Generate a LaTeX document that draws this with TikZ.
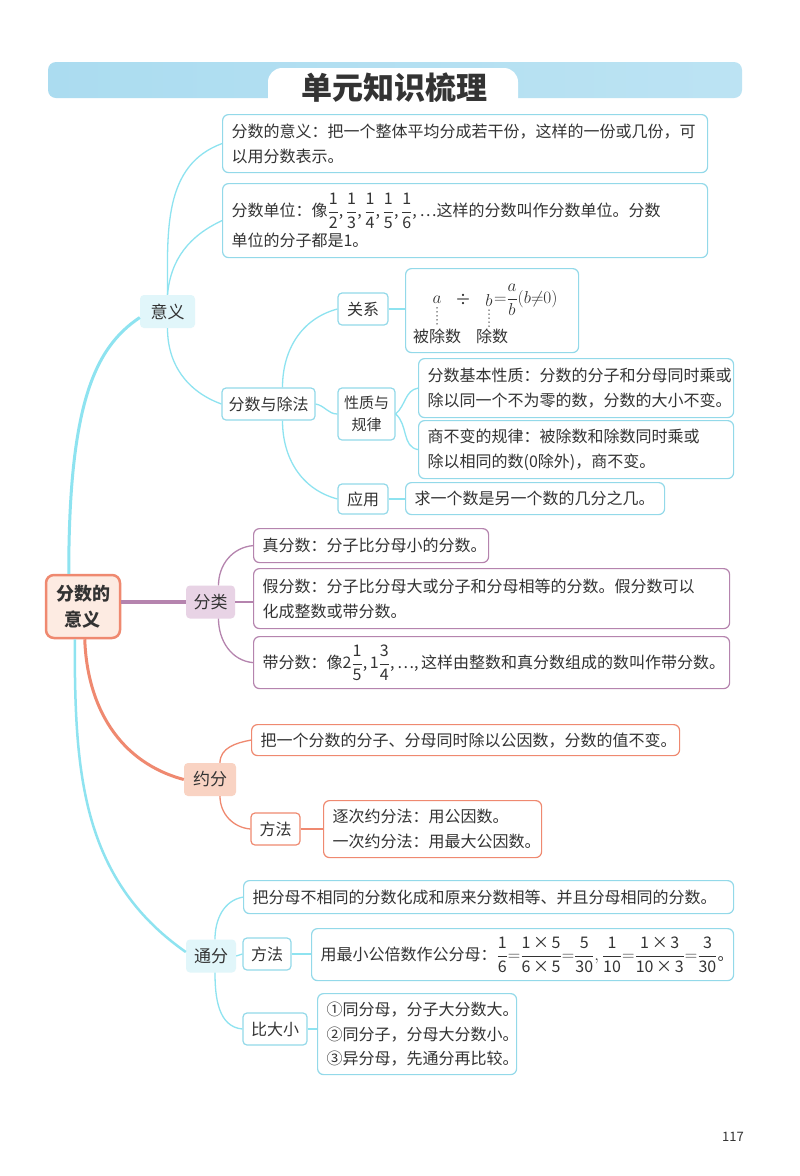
\documentclass[tikz,border=0pt]{standalone}
\usepackage{fontspec}
\setmainfont{Noto Sans CJK SC}
\definecolor{ink}{HTML}{333333}
\definecolor{barblue}{HTML}{ABDCF0}
\definecolor{cyanline}{HTML}{8EE3F0}
\definecolor{cyanbd}{HTML}{93D9E9}
\definecolor{cyanfill}{HTML}{E1F6FA}
\definecolor{purpline}{HTML}{B584AE}
\definecolor{purpfill}{HTML}{E8D3E5}
\definecolor{salmline}{HTML}{EF8970}
\definecolor{salmfill}{HTML}{F9D3C3}
\definecolor{rootfill}{HTML}{FDEBE2}
\newcommand\fr[2]{$\displaystyle\frac{\mbox{#1}}{\mbox{#2}}$}
\tikzset{
  leaf/.style={draw, fill=white, rounded corners=6, line width=1.2, align=left,
    inner xsep=9, inner ysep=3, anchor=north west, text=ink,
    font=\fontsize{16}{25}\selectfont},
  tag/.style={draw, fill=white, rounded corners=4, line width=1.2, align=center,
    inner sep=2, text=ink, font=\fontsize{16}{24}\selectfont},
  maintag/.style={rounded corners=4, inner sep=2, text=ink, minimum height=33,
    font=\fontsize{17}{24}\selectfont},
  rel/.style={inner sep=1, text=ink, font=\fontsize{16}{18}\selectfont},
  twig/.style={line width=1.3}
}
\begin{document}
\begin{tikzpicture}[x=1pt,y=-1pt]
\useasboundingbox[fill=white] (0,0) rectangle (800,1176);
% header
\shade[left color=barblue, right color=barblue!80!white, rounded corners=8]
  (48,62) rectangle (742,98);
\fill[white, rounded corners=14] (268,106) -- (268,68) -- (518,68) -- (518,106);
\node[text=ink, font=\fontsize{31}{32}\selectfont\bfseries] (title) at (394,88) {单元知识梳理};

% root
\node[draw=salmline, fill=rootfill, line width=2.5, rounded corners=8, align=center,
  minimum width=74, minimum height=63, text=ink,
  font=\fontsize{18}{26}\selectfont\bfseries] (root) at (83,606.5) {分数的\\意义};

% -------- 意义
\node[maintag, fill=cyanfill, minimum width=55] (yy) at (167.5,311.5) {意义};
\node[leaf, draw=cyanbd, text width=467, minimum height=58] (yy1) at (222,114)
  {分数的意义：把一个整体平均分成若干份，这样的一份或几份，可\\以用分数表示。};
\node[leaf, draw=cyanbd, text width=467, minimum height=74,
  font=\fontsize{16}{30}\selectfont] (yy2) at (222,183)
  {分数单位：像\fr{1}{2},\,\fr{1}{3},\,\fr{1}{4},\,\fr{1}{5},\,\fr{1}{6},\,…这样的分数叫作分数单位。分数\\单位的分子都是1。};
\node[tag, draw=cyanbd, minimum width=93, minimum height=32] (fscf) at (268.5,404) {分数与除法};
\node[tag, draw=cyanbd, minimum width=50, minimum height=32] (gx) at (363,309) {关系};
\node[tag, draw=cyanbd, minimum width=57, minimum height=52,
  font=\fontsize{15}{22}\selectfont] (xzgl) at (366.5,414) {性质与\\规律};
\node[tag, draw=cyanbd, minimum width=50, minimum height=30] (yyong) at (363,499) {应用};
\node[leaf, draw=cyanbd, minimum width=173, minimum height=84] (gxbox) at (405,268) {};
\node[rel, font=\fontsize{19}{20}\selectfont] (ka) at (437,300) {$a$};
\node[rel] (kdiv) at (463,300) {÷};
\node[rel, font=\fontsize{19}{20}\selectfont] (kb) at (489,300) {$b$};
\node[rel, anchor=west, font=\fontsize{19}{20}\selectfont] (kfr) at ([xshift=-1]kb.east)
  {$\displaystyle{=}\frac{a}{b}(b{\neq}0)$};
\node[rel] (kbcs) at (437,336) {被除数};
\node[rel] (kcs) at (492,336) {除数};
\draw[ink, line width=1.5, line cap=round, dash pattern=on 0pt off 4pt] ([yshift=-3]ka.south) -- (kbcs.north);
\draw[ink, line width=1.5, line cap=round, dash pattern=on 0pt off 4pt] ([yshift=-3]kb.south) -- (kb.south |- kcs.north);
\node[leaf, draw=cyanbd, text width=297, minimum height=59] (xz1) at (418,358)
  {分数基本性质：分数的分子和分母同时乘或\\除以同一个不为零的数，分数的大小不变。};
\node[leaf, draw=cyanbd, text width=297, minimum height=58] (xz2) at (418,420)
  {商不变的规律：被除数和除数同时乘或\\除以相同的数(0除外)，商不变。};
\node[leaf, draw=cyanbd, text width=241, minimum height=32] (yy3) at (405,482)
  {求一个数是另一个数的几分之几。};

% -------- 分类
\node[maintag, fill=purpfill, minimum width=49] (fl) at (210.5,602) {分类};
\node[leaf, draw=purpline, text width=217, minimum height=34] (fl1) at (253,528)
  {真分数：分子比分母小的分数。};
\node[leaf, draw=purpline, text width=458, minimum height=60] (fl2) at (253,568)
  {假分数：分子比分母大或分子和分母相等的分数。假分数可以\\化成整数或带分数。};
\node[leaf, draw=purpline, text width=458, minimum height=52] (fl3) at (253,636)
  {带分数：像2\fr{1}{5},\,1\fr{3}{4},\,…,\,这样由整数和真分数组成的数叫作带分数。};

% -------- 约分
\node[maintag, fill=salmfill, minimum width=52] (yf) at (210,779.5) {约分};
\node[leaf, draw=salmline, text width=410, minimum height=31] (yf1) at (251,724)
  {把一个分数的分子、分母同时除以公因数，分数的值不变。};
\node[tag, draw=salmline, minimum width=49, minimum height=32] (yfff) at (275.5,829) {方法};
\node[leaf, draw=salmline, text width=200, minimum height=57] (yf2) at (323,800)
  {逐次约分法：用公因数。\\一次约分法：用最大公因数。};

% -------- 通分
\node[maintag, fill=cyanfill, minimum width=50] (tf) at (211,956) {通分};
\node[leaf, draw=cyanbd, text width=472, minimum height=33] (tf1) at (243,880)
  {把分母不相同的分数化成和原来分数相等、并且分母相同的分数。};
\node[tag, draw=cyanbd, minimum width=48, minimum height=32] (tfff) at (267,954) {方法};
\node[leaf, draw=cyanbd, text width=404, minimum height=52] (tf2) at (311,928)
  {用最小公倍数作公分母：$\displaystyle\frac{\mbox{1}}{\mbox{6}}{=}\frac{\mbox{1\,×\,5}}{\mbox{6\,×\,5}}{=}\frac{\mbox{5}}{\mbox{30}},\frac{\mbox{1}}{\mbox{10}}{=}\frac{\mbox{1\,×\,3}}{\mbox{10\,×\,3}}{=}\frac{\mbox{3}}{\mbox{30}}$。};
\node[tag, draw=cyanbd, minimum width=64, minimum height=32] (bdx) at (275,1029) {比大小};
\node[leaf, draw=cyanbd, text width=181, minimum height=81,
  font=\fontsize{16}{24.5}\selectfont] (tf3) at (317,993)
  {①同分母，分子大分数大。\\②同分子，分母大分数小。\\③异分母，先通分再比较。};

% main branches
\draw[cyanline, line width=3] ([xshift=24]root.north west)
  .. controls +(0,-170) and +(-45,30) .. ([yshift=-6]yy.west);
\draw[purpline, line width=3.5] (root.east |- fl.west) -- (fl.west);
\draw[salmline, line width=3] ([xshift=40]root.south west) to[out=-88,in=165] (yf.west);
\draw[cyanline, line width=2.5] ([xshift=30]root.south west) to[out=-90,in=145] ([yshift=4]tf.west);

% twigs
\draw[twig, cyanline] (yy.north) to[out=90,in=200] (yy1.west);
\draw[twig, cyanline] (yy.north) to[out=85,in=205] (yy2.west);
\draw[twig, cyanline] (yy.south) to[out=-90,in=160] (fscf.west);
\draw[twig, cyanline] ([xshift=14]fscf.north) to[out=90,in=195] (gx.west);
\draw[twig, cyanline] (fscf.east) to[out=-10,in=180] (xzgl.west);
\draw[twig, cyanline] ([xshift=14]fscf.south) to[out=-90,in=165] (yyong.west);
\draw[twig, cyanline] (gx.east) -- (gx.east -| gxbox.west);
\draw[twig, cyanline] (xzgl.east) to[out=40,in=190] (xz1.west);
\draw[twig, cyanline] (xzgl.east) to[out=-40,in=170] (xz2.west);
\draw[twig, cyanline] (yyong.east) -- (yyong.east -| yy3.west);
\draw[twig, purpline] ([xshift=8]fl.north) to[out=90,in=185] (fl1.west);
\draw[twig, purpline] (fl.east) -- (fl.east -| fl2.west);
\draw[twig, purpline] ([xshift=8]fl.south) to[out=-90,in=175] (fl3.west);
\draw[twig, salmline] ([xshift=10]yf.north) to[out=90,in=190] (yf1.west);
\draw[twig, salmline] ([xshift=10]yf.south) to[out=-90,in=175] (yfff.west);
\draw[twig, salmline] (yfff.east) -- (yfff.east -| yf2.west);
\draw[twig, cyanline] ([xshift=4]tf.north) to[out=90,in=190] (tf1.west);
\draw[twig, cyanline] (tf.east) -- (tfff.west);
\draw[twig, cyanline] ([xshift=4]tf.south) to[out=-90,in=175] (bdx.west);
\draw[twig, cyanline] (tfff.east) -- (tfff.east -| tf2.west);
\draw[twig, cyanline] (bdx.east) -- (bdx.east -| tf3.west);

\node[text=ink, font=\fontsize{13}{15}\selectfont] (page) at (733,1137) {117};
\end{tikzpicture}
\end{document}
